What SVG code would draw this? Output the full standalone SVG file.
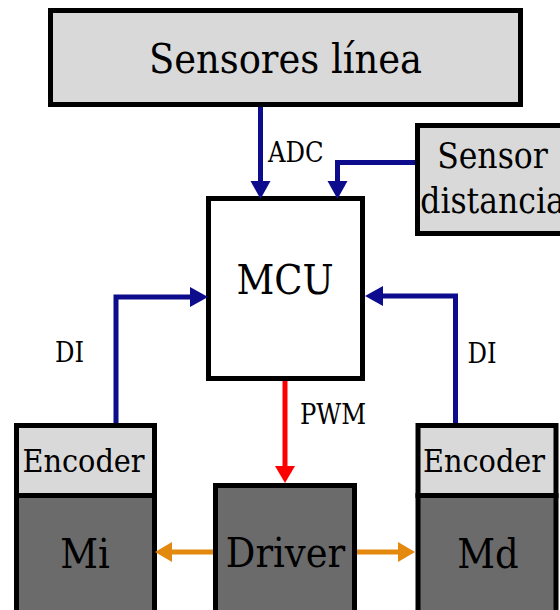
<svg xmlns="http://www.w3.org/2000/svg" width="560" height="610" viewBox="0 0 560 610">
  <style>
    .box { stroke: #000; stroke-width: 5; }
    .light { fill: #d9d9d9; }
    .dark { fill: #6b6b6b; }
    .white { fill: #fff; }
    text { font-family: 'DejaVu Serif Condensed', 'DejaVu Serif', serif; font-stretch: condensed; fill: #000; }
    .big { font-size: 41px; text-anchor: middle; }
    .mid { font-size: 35px; text-anchor: middle; }
    .enc { font-size: 32px; text-anchor: middle; }
    .lbl { font-size: 27px; }
    .bus { fill: none; stroke-width: 5; }
    .navy { stroke: #0c0c8c; }
    .red { stroke: #ff0000; }
    .orange { stroke: #e3890f; }
  </style>
  <defs>
    <marker id="headNavy" markerUnits="userSpaceOnUse" markerWidth="18" markerHeight="20" refX="0" refY="10" orient="auto" overflow="visible">
      <path d="M0,0 L18,10 L0,20 z" fill="#0c0c8c"/>
    </marker>
    <marker id="headRed" markerUnits="userSpaceOnUse" markerWidth="17" markerHeight="20" refX="0" refY="10" orient="auto" overflow="visible">
      <path d="M0,0 L17,10 L0,20 z" fill="#ff0000"/>
    </marker>
    <marker id="headOrange" markerUnits="userSpaceOnUse" markerWidth="17" markerHeight="20" refX="0" refY="10" orient="auto" overflow="visible">
      <path d="M0,0 L17,10 L0,20 z" fill="#e3890f"/>
    </marker>
  </defs>

  <!-- blocks -->
  <g id="sensores-linea">
    <rect class="box light" x="50.5" y="10.5" width="470" height="94"/>
    <text class="big" x="285.5" y="73">Sensores línea</text>
  </g>
  <g id="sensor-distancia">
    <rect class="box light" x="417.5" y="125.5" width="160" height="108"/>
    <text class="mid" x="492.5" y="168">Sensor</text>
    <text class="mid" x="492.5" y="213">distancia</text>
  </g>
  <g id="mcu">
    <rect class="box white" x="208.5" y="198.5" width="154" height="180"/>
    <text class="big" x="285" y="294">MCU</text>
  </g>
  <g id="encoder-izq">
    <rect class="box light" x="16.5" y="425.5" width="138" height="70"/>
    <text class="enc" x="83.5" y="471.5">Encoder</text>
  </g>
  <g id="motor-izq">
    <rect class="box dark" x="16.5" y="495.5" width="138" height="130"/>
    <text class="big" x="85" y="568">Mi</text>
  </g>
  <g id="driver">
    <rect class="box dark" x="215.5" y="485.5" width="139" height="140"/>
    <text class="big" x="285.5" y="567">Driver</text>
  </g>
  <g id="encoder-der">
    <rect class="box light" x="418" y="425.5" width="138" height="70"/>
    <text class="enc" x="484" y="472">Encoder</text>
  </g>
  <g id="motor-der">
    <rect class="box dark" x="418" y="495.5" width="138" height="130"/>
    <text class="big" x="488" y="568">Md</text>
  </g>

  <!-- signal lines -->
  <g id="connectors">
    <path class="bus navy" d="M260.5,107 V181" marker-end="url(#headNavy)"/>
    <path class="bus navy" d="M415,162.5 H337.5 V181" marker-end="url(#headNavy)"/>
    <path class="bus navy" d="M116,423 V297 H190" marker-end="url(#headNavy)"/>
    <path class="bus navy" d="M455.5,423 V296 H383" marker-end="url(#headNavy)"/>
    <path class="bus red" d="M285,381 V466" marker-end="url(#headRed)"/>
    <path class="bus orange" d="M213,552 H172" marker-end="url(#headOrange)"/>
    <path class="bus orange" d="M357,552 H398" marker-end="url(#headOrange)"/>
    <text class="lbl" x="268" y="162">ADC</text>
    <text class="lbl" x="55" y="361.5">DI</text>
    <text class="lbl" x="467.5" y="363">DI</text>
    <text class="lbl" x="300" y="424">PWM</text>
  </g>
</svg>
